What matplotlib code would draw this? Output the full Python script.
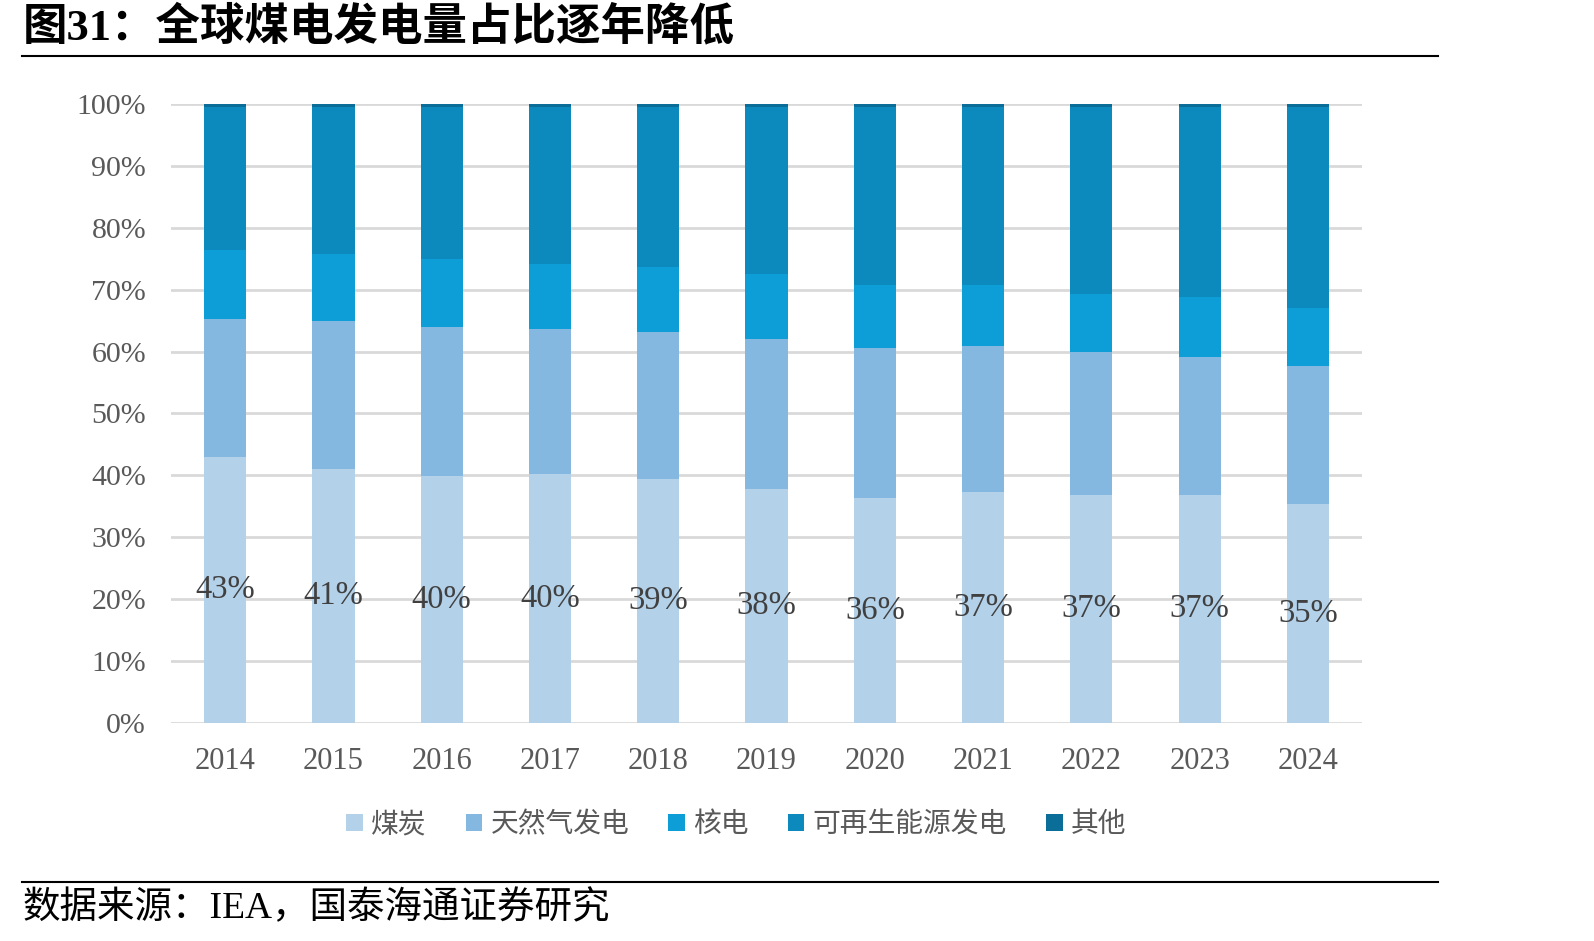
import numpy as np
import matplotlib.pyplot as plt
from matplotlib.patches import Patch
from matplotlib.lines import Line2D

years = ['2014', '2015', '2016', '2017', '2018', '2019', '2020', '2021', '2022', '2023', '2024']
coal = [42.9, 41.0, 39.9, 40.2, 39.4, 37.8, 36.4, 37.3, 36.9, 36.8, 35.4]
gas = [22.3, 23.9, 24.1, 23.5, 23.8, 24.3, 24.2, 23.6, 23.0, 22.3, 22.2]
nuclear = [11.2, 10.8, 10.9, 10.5, 10.5, 10.5, 10.2, 9.9, 9.4, 9.7, 9.4]
renew = [23.1, 23.8, 24.6, 25.3, 25.8, 26.9, 28.7, 28.7, 30.2, 30.7, 32.5]
other = [0.5, 0.5, 0.5, 0.5, 0.5, 0.5, 0.5, 0.5, 0.5, 0.5, 0.5]

names = ['煤炭', '天然气发电', '核电', '可再生能源发电', '其他']
colors = ['#B4D1EA', '#85B8E0', '#0E9ED7', '#0C8ABD', '#0A6E98']

SERIF = ['Liberation Serif', 'Noto Sans CJK SC']
CJK = ['Noto Sans CJK SC', 'DejaVu Sans']

fig = plt.figure(figsize=(15.94, 9.41), dpi=100)
ax = fig.add_axes([0.1073, 0.2317, 0.7472, 0.6578])

x = np.arange(len(years))
bottom = np.zeros(len(years))
for vals, c in zip([coal, gas, nuclear, renew, other], colors):
    ax.bar(x, vals, width=0.39, bottom=bottom, color=c, zorder=3)
    bottom += np.array(vals)

# labels sit in the middle of the coal segment
for xi, v in zip(x, coal):
    ax.text(xi, v / 2, f'{v:.0f}%', ha='center', va='center', fontsize=23.5,
            color='#404040', family=SERIF, zorder=4)

ax.set_xlim(-0.5, len(years) - 0.5)
ax.set_ylim(0, 100)
ax.set_yticks(np.arange(0, 101, 10))
ax.set_yticklabels([f'{t}%' for t in range(0, 101, 10)], family=SERIF, fontsize=21.5, color='#595959')
ax.set_xticks(x)
ax.set_xticklabels(years, family=SERIF, fontsize=22, color='#595959')
ax.tick_params(axis='both', length=0)
ax.tick_params(axis='x', pad=17)
ax.tick_params(axis='y', pad=18)
ax.grid(axis='y', color='#D9D9D9', linewidth=2, zorder=0)
for s in ax.spines.values():
    s.set_visible(False)

handles = [Patch(facecolor=c, edgecolor='none') for c in colors]
fig.legend(handles, names, loc='center', bbox_to_anchor=(0.462, 0.124), ncol=5, frameon=False,
           prop={'family': CJK, 'size': 20}, labelcolor='#595959',
           handlelength=0.6, handleheight=0.6, handletextpad=0.3, columnspacing=1.4)

fig.text(0.014, 0.971, '图31：全球煤电发电量占比逐年降低', fontsize=32, fontweight='bold',
         family=SERIF, va='center', ha='left')
fig.add_artist(Line2D([0.014, 0.902], [0.941, 0.941], color='black', linewidth=1.5))
fig.add_artist(Line2D([0.014, 0.902], [0.063, 0.063], color='black', linewidth=1.5))
fig.text(0.014, 0.035, '数据来源：IEA，国泰海通证券研究', fontsize=27, family=SERIF,
         va='center', ha='left')

fig.savefig('out.png', dpi=100)
